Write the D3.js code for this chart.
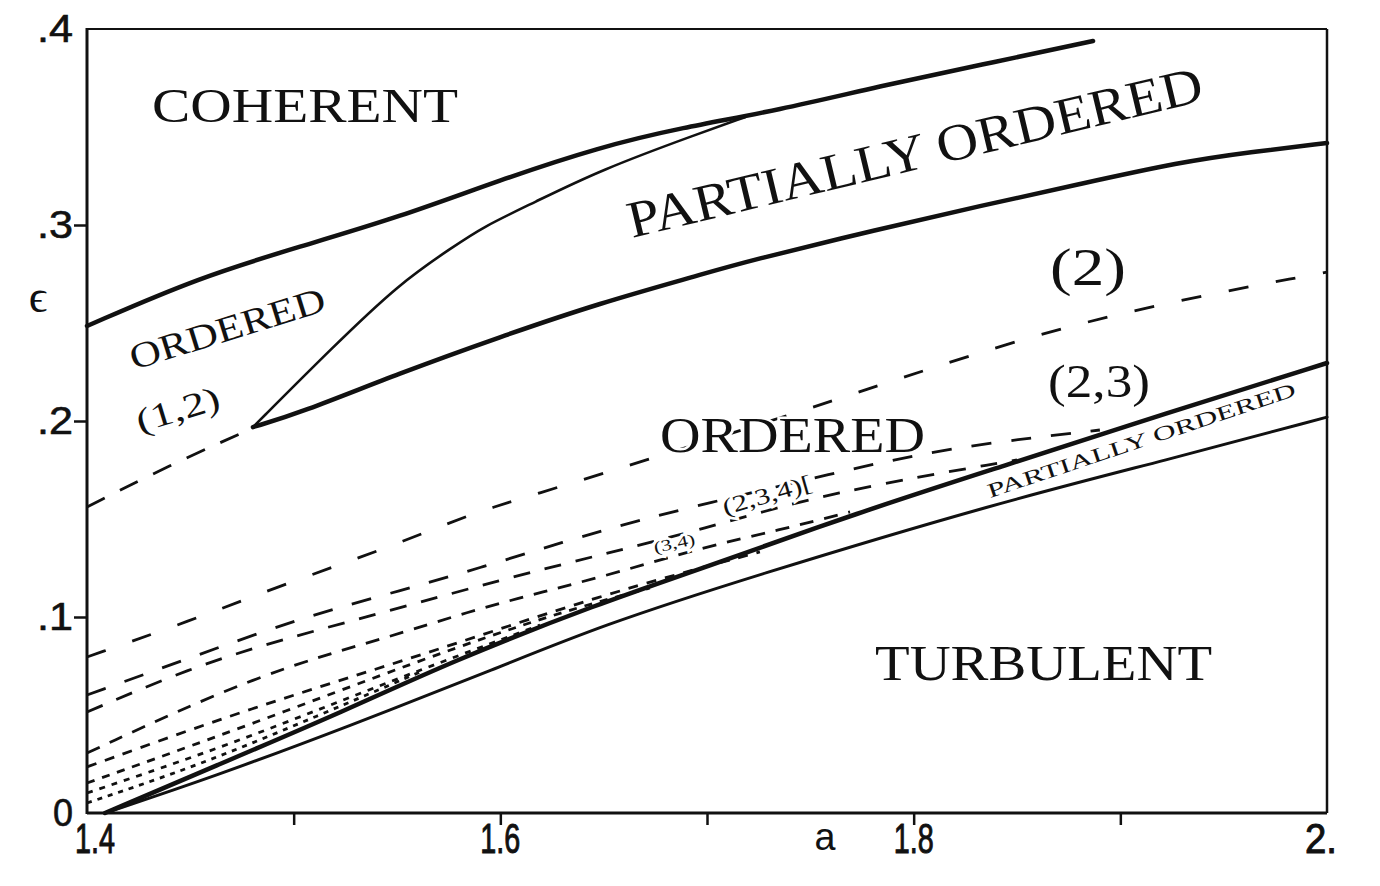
<!DOCTYPE html>
<html lang="en">
<head>
<meta charset="utf-8">
<title>Phase diagram (a, epsilon)</title>
<script src="https://cdn.jsdelivr.net/npm/d3@7"></script>
<style>
  body { margin: 0; background: #fff; }
  svg { display: block; }
  .lbl { font-family: "Liberation Serif", "DejaVu Serif", serif; fill: #111; }
  .num { font-family: "Liberation Sans", "DejaVu Sans", sans-serif; fill: #111; }
</style>
</head>
<body>
<script>
const width = 1380;
const height = 886;

// solid boundaries, points are [a, epsilon]
const coherentEdge = [[1.4, .2485], [1.4547, .2735], [1.5031, .289], [1.5514, .3041], [1.5998, .323],
  [1.6482, .3398], [1.6869, .3495], [1.7353, .3587], [1.7837, .3709], [1.8321, .3816], [1.8868, .3939]];
const orderedTongue = [[1.4803, .1969], [1.519, .2378], [1.5514, .2704], [1.5771, .2888], [1.5916, .299],
  [1.6158, .3112], [1.6482, .328], [1.6966, .3469], [1.7184, .355]];
const partialLower = [[1.4803, .1969], [1.5031, .2041], [1.5514, .2245], [1.5998, .2429], [1.6482, .2602],
  [1.6966, .2745], [1.7193, .2815], [1.7837, .298], [1.8321, .3097], [1.8805, .3209], [1.9289, .3321],
  [1.9627, .3372], [2.0, .3418]];
const turbUpper = [[1.4087, 0], [1.461, .0235], [1.5258, .0526], [1.5756, .077], [1.6482, .1071],
  [1.6966, .1244], [1.774, .1536], [1.8418, .1765], [1.9226, .2041], [2.0, .2296]];
const turbLower = [[1.4087, 0], [1.461, .0184], [1.5258, .0439], [1.5998, .0745], [1.6482, .0954],
  [1.7208, .1204], [1.8418, .1587], [1.9226, .1801], [2.0, .202]];

// dashed boundaries between clustering states
const dashA = [[1.4, .1561], [1.4402, .1776], [1.4803, .1964]];
const dashB = [[1.4, .0796], [1.4484, .0974], [1.4968, .1173], [1.5466, .1357], [1.5868, .1531], [1.6158, .1622],
  [1.6676, .1791], [1.745, .2046], [1.8079, .227], [1.8901, .2541], [2.0, .276]];
const dashC = [[1.4, .0602], [1.4498, .0791], [1.5031, .0995], [1.5529, .1138], [1.5916, .1255], [1.6303, .1383],
  [1.6676, .1495], [1.6966, .1571], [1.7595, .173], [1.8176, .1867], [1.8901, .1954]];
const dashD = [[1.4, .0515], [1.4498, .074], [1.4934, .0883], [1.548, .1036], [1.5998, .1189], [1.6482, .1316],
  [1.6966, .1444], [1.7595, .1638], [1.85, .1801]];
const dashE = [[1.4, .0306], [1.4837, .0714], [1.5466, .0898], [1.5839, .1026], [1.6206, .1128], [1.6579, .123],
  [1.6966, .1352], [1.7353, .1444], [1.7692, .1536]];
const dashF = [[1.4, .0235], [1.4789, .0536], [1.5626, .0806], [1.6482, .1112], [1.7256, .1332]];
const dashG = [[1.4, .0153], [1.4789, .0449], [1.5611, .0781], [1.6289, .1026], [1.6724, .1148]];
const dashH = [[1.4, .0102], [1.4692, .0347], [1.5418, .0653], [1.6192, .0959]];
const dashI = [[1.4, .0051], [1.4547, .0245], [1.5127, .05], [1.5611, .0719]];

// axis ticks and labels
const xTicks = [1.5, 1.6, 1.7, 1.8, 1.9];
const xLabelVals = [1.4, 1.6, 1.8, 2.0];
const xLabelText = ["1.4", "1.6", "1.8", "2."];
const yTicks = [.1, .2, .3];
const yLabelVals = [0, .1, .2, .3, .4];
const yLabelText = ["0", ".1", ".2", ".3", ".4"];

// region names, anchored at baseline start [a, epsilon]
const regionText = ["COHERENT", "PARTIALLY ORDERED", "ORDERED", "(1,2)", "(2)", "(2,3)", "ORDERED",
  "TURBULENT", "PARTIALLY ORDERED", "(2,3,4)[", "(3,4)"];
const regionA = [1.4315, 1.6637, 1.4227, 1.4256, 1.866, 1.865, 1.6773, 1.7813, 1.8369, 1.7087, 1.6748];
const regionEps = [.3526, .2934, .226, .1939, .2694, .2122, .1842, .0679, .1607, .152, .1327];

// how each label looks: size, rotation, stretched length
const regionStyle = [
  {size: 48, rot: 0, len: 306},
  {size: 52, rot: -13.5, len: 590},
  {size: 36, rot: -17.2, len: 203},
  {size: 34, rot: -17, len: 86},
  {size: 52, rot: 0, len: 76},
  {size: 46, rot: 0, len: 102},
  {size: 50, rot: 0, len: 265},
  {size: 50, rot: 0, len: 337},
  {size: 20, rot: -18.5, len: 324},
  {size: 23, rot: -16, len: 92},
  {size: 16, rot: -12, len: 42}
];

const x = d3.scaleLinear().domain([1.4, 2.0]).range([87, 1327]);
const y = d3.scaleLinear().domain([0, 0.4]).range([813, 29]);

const svg = d3.select(document.body).append('svg').attr('width', width).attr('height', height);

const line = d3.line()
  .x(d => x(d[0]))
  .y(d => y(d[1]))
  .curve(d3.curveBasis);

// dashed lines first, so the solid ones sit on top
const dashed = [
  {pts: dashA, dash: "20,17"},
  {pts: dashB, dash: "20,28"},
  {pts: dashC, dash: "20,20"},
  {pts: dashD, dash: "17,15"},
  {pts: dashE, dash: "14,11"},
  {pts: dashF, dash: "10,9"},
  {pts: dashG, dash: "8,8"},
  {pts: dashH, dash: "6,7"},
  {pts: dashI, dash: "5,6"}
];
svg.append('g').selectAll('path').data(dashed).enter()
  .append('path')
  .attr('d', d => line(d.pts))
  .attr('fill', 'none')
  .attr('stroke', '#111')
  .attr('stroke-width', 2.8)
  .attr('stroke-dasharray', d => d.dash);

// region labels (white halo cuts the dashes like the original)
svg.append('g').selectAll('text').data(regionText).enter()
  .append('text')
  .attr('class', 'lbl')
  .attr('transform', (d, i) => `translate(${x(regionA[i])},${y(regionEps[i])}) rotate(${regionStyle[i].rot})`)
  .attr('font-size', (d, i) => regionStyle[i].size)
  .attr('textLength', (d, i) => regionStyle[i].len)
  .attr('lengthAdjust', 'spacingAndGlyphs')
  .attr('stroke', '#fff')
  .attr('stroke-width', 5)
  .attr('paint-order', 'stroke')
  .text(d => d);

const solid = [
  {pts: coherentEdge, w: 4.5},
  {pts: orderedTongue, w: 2.6},
  {pts: partialLower, w: 4.5},
  {pts: turbUpper, w: 4.5},
  {pts: turbLower, w: 3}
];
svg.append('g').selectAll('path').data(solid).enter()
  .append('path')
  .attr('d', d => line(d.pts))
  .attr('fill', 'none')
  .attr('stroke', '#111')
  .attr('stroke-width', d => d.w)
  .attr('stroke-linecap', 'round')
  .attr('stroke-linejoin', 'round');

// frame
const frame = svg.append('g').attr('stroke', '#111').attr('fill', 'none');
frame.append('line').attr('x1', x(1.4)).attr('x2', x(2.0)).attr('y1', y(0.4)).attr('y2', y(0.4)).attr('stroke-width', 2);
frame.append('line').attr('x1', x(2.0)).attr('x2', x(2.0)).attr('y1', y(0.4)).attr('y2', y(0)).attr('stroke-width', 2.5);
frame.append('line').attr('x1', x(1.4)).attr('x2', x(1.4)).attr('y1', y(0.4) - 1).attr('y2', y(0) + 1).attr('stroke-width', 3);
frame.append('line').attr('x1', x(1.4)).attr('x2', x(2.0)).attr('y1', y(0)).attr('y2', y(0)).attr('stroke-width', 3);

// ticks
const xAxis = svg.append('g')
  .attr('transform', `translate(0,${y(0)})`)
  .call(d3.axisBottom(x).tickValues(xTicks).tickFormat('').tickSize(12).tickSizeOuter(0));
const yAxis = svg.append('g')
  .attr('transform', `translate(${x(1.4)},0)`)
  .call(d3.axisLeft(y).tickValues(yTicks).tickFormat('').tickSize(13).tickSizeOuter(0));
[xAxis, yAxis].forEach(g => {
  g.select('.domain').remove();
  g.selectAll('.tick line').attr('stroke', '#111').attr('stroke-width', 2.5);
});

// tick labels, squeezed like the condensed figures of the original
svg.append('g').selectAll('text').data(xLabelVals).enter()
  .append('text')
  .attr('class', 'num')
  .attr('x', (d, i) => x(d) + (i === 0 ? 8 : (i === 3 ? -6 : 0)))
  .attr('y', 853)
  .attr('text-anchor', 'middle')
  .attr('font-size', 42)
  .attr('textLength', (d, i) => i === 3 ? 32 : 40)
  .attr('lengthAdjust', 'spacingAndGlyphs')
  .attr('stroke', '#111')
  .attr('stroke-width', 1)
  .text((d, i) => xLabelText[i]);

svg.append('g').selectAll('text').data(yLabelVals).enter()
  .append('text')
  .attr('class', 'num')
  .attr('x', 73)
  .attr('y', d => y(d) + 13)
  .attr('text-anchor', 'end')
  .attr('font-size', 38)
  .attr('textLength', d => d === 0 ? 20 : 36)
  .attr('lengthAdjust', 'spacingAndGlyphs')
  .attr('stroke', '#111')
  .attr('stroke-width', 0.6)
  .text((d, i) => yLabelText[i]);

// axis names
svg.append('text').attr('class', 'num')
  .attr('x', x(1.7) + 118).attr('y', 850)
  .attr('text-anchor', 'middle').attr('font-size', 38)
  .attr('textLength', 21).attr('lengthAdjust', 'spacingAndGlyphs')
  .text('a');
svg.append('text').attr('class', 'lbl')
  .attr('x', 38).attr('y', 312)
  .attr('text-anchor', 'middle').attr('font-size', 46)
  .text('ϵ');
</script>
</body>
</html>
